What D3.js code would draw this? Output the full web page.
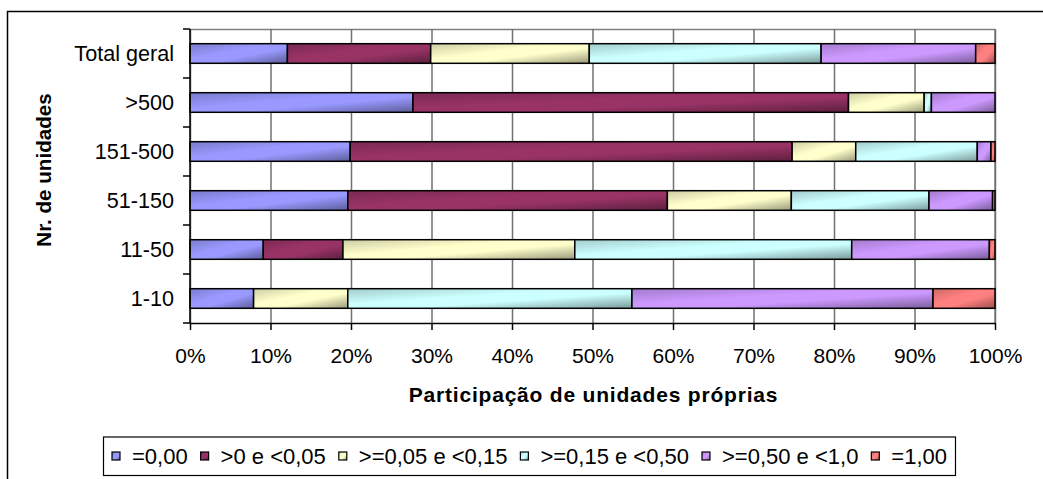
<!DOCTYPE html>
<html>
<head>
<meta charset="utf-8">
<script src="https://cdn.jsdelivr.net/npm/d3@7"></script>
<style>
  html, body { margin: 0; padding: 0; background: #fff; }
  svg { display: block; font-family: "Liberation Sans", Arial, sans-serif; }
</style>
</head>
<body>
<svg id="chart" width="1043" height="479"></svg>
<script>
// Categories, bottom to top
const categories = ["1-10", "11-50", "51-150", "151-500", ">500", "Total geral"];

// Share of units per class (%), one array per series, same order as categories
const seriesNames = ["=0,00", ">0 e <0,05", ">=0,05 e <0,15", ">=0,15 e <0,50", ">=0,50 e <1,0", "=1,00"];
const eq000   = [7.9,  9.1, 19.6, 19.9, 27.7, 12.1];
const gt0lt05 = [0.0,  9.9, 39.7, 54.9, 54.1, 17.8];
const ge05lt15 = [11.7, 28.8, 15.4, 7.9,  9.4, 19.7];
const ge15lt50 = [35.3, 34.4, 17.1, 15.1, 0.9, 28.8];
const ge50lt1  = [37.4, 17.1, 7.9,  1.7,  7.9, 19.2];
const eq100   = [7.7,  0.7,  0.3,  0.5,  0.0,  2.4];
const seriesValues = [eq000, gt0lt05, ge05lt15, ge15lt50, ge50lt1, eq100];
const seriesColors = ["#9999FF", "#993366", "#FFFFCC", "#CCFFFF", "#CC99FF", "#FF8080"];

const xTickValues = [0, 10, 20, 30, 40, 50, 60, 70, 80, 90, 100];
const xTitle = "Participação de unidades próprias";
const yTitle = "Nr. de unidades";

// Table for d3.stack
const rows = categories.map((c, i) => {
  const r = { cat: c };
  seriesNames.forEach((s, j) => { r[s] = seriesValues[j][i]; });
  return r;
});
const stacked = d3.stack().keys(seriesNames)(rows);

const svg = d3.select("#chart");
const plot = { left: 190, right: 995, top: 29, bottom: 323 };

const x = d3.scaleLinear().domain([0, 100]).range([plot.left, plot.right]);
const y = d3.scaleBand()
  .domain(categories.slice().reverse())
  .range([plot.top, plot.bottom])
  .paddingInner(0.6)
  .paddingOuter(0.3);

// Outer chart frame
svg.append("rect")
  .attr("x", 7.5).attr("y", 11.5)
  .attr("width", 1100).attr("height", 600)
  .attr("fill", "none").attr("stroke", "#000").attr("stroke-width", 1.5);

// Gradients: shaded diagonal fill per series
const defs = svg.append("defs");
seriesColors.forEach((c, i) => {
  const g = defs.append("linearGradient")
    .attr("id", "grad" + i)
    .attr("x1", 0).attr("y1", 0).attr("x2", 1).attr("y2", 1);
  const base = d3.color(c).formatHex();
  const dark = d3.interpolateRgb(c, "#000")(0.4);
  const mid = d3.interpolateRgb(c, "#000")(0.2);
  g.append("stop").attr("offset", "0%").attr("stop-color", mid);
  g.append("stop").attr("offset", "40%").attr("stop-color", base);
  g.append("stop").attr("offset", "60%").attr("stop-color", base);
  g.append("stop").attr("offset", "100%").attr("stop-color", dark);
});

// Plot frame (top and right edges) and vertical gridlines
svg.append("line")
  .attr("x1", plot.left).attr("x2", plot.right)
  .attr("y1", plot.top + 0.5).attr("y2", plot.top + 0.5)
  .attr("stroke", "#808080").attr("stroke-width", 1.5);
svg.append("line")
  .attr("x1", plot.right).attr("x2", plot.right)
  .attr("y1", plot.top).attr("y2", plot.bottom)
  .attr("stroke", "#808080").attr("stroke-width", 1.5);

const xAxis = d3.axisBottom(x)
  .tickValues(xTickValues)
  .tickSize(-(plot.bottom - plot.top))
  .tickFormat("");
svg.append("g")
  .attr("transform", `translate(0,${plot.bottom})`)
  .call(xAxis)
  .call(g => g.select(".domain").remove())
  .call(g => g.selectAll(".tick line").attr("stroke", "#707070").attr("stroke-width", 1.5));

// Bars
const layer = svg.append("g").selectAll("g")
  .data(stacked)
  .join("g")
  .attr("fill", (d, i) => `url(#grad${i})`);
layer.selectAll("rect")
  .data(d => d.filter(p => p[1] - p[0] > 0))
  .join("rect")
  .attr("x", p => x(p[0]))
  .attr("y", p => y(p.data.cat))
  .attr("width", p => x(p[1]) - x(p[0]))
  .attr("height", y.bandwidth())
  .attr("stroke", "#000")
  .attr("stroke-width", 1.5);

// X axis: line, outward ticks and percent labels
const xAxisLine = d3.axisBottom(x)
  .tickValues(xTickValues)
  .tickSize(7)
  .tickSizeOuter(0)
  .tickPadding(18)
  .tickFormat(d => d + "%");
svg.append("g")
  .attr("transform", `translate(0,${plot.bottom})`)
  .call(xAxisLine)
  .call(g => g.select(".domain").attr("stroke", "#000").attr("stroke-width", 1.5))
  .call(g => g.selectAll(".tick line").attr("stroke", "#000").attr("stroke-width", 1.5))
  .call(g => g.selectAll(".tick text")
    .attr("font-size", 21).attr("fill", "#000")
    .attr("font-family", "Liberation Sans, Arial, sans-serif"));

// Y axis: category labels, ticks between categories
const step = y.step();
const boundaries = d3.range(categories.length + 1).map(i => plot.top + i * step);
svg.append("line")
  .attr("x1", plot.left).attr("x2", plot.left)
  .attr("y1", plot.top).attr("y2", plot.bottom)
  .attr("stroke", "#000").attr("stroke-width", 1.5);
svg.append("g").selectAll("line")
  .data(boundaries)
  .join("line")
  .attr("x1", plot.left - 7).attr("x2", plot.left)
  .attr("y1", d => d).attr("y2", d => d)
  .attr("stroke", "#000").attr("stroke-width", 1.5);
svg.append("g").selectAll("text")
  .data(categories)
  .join("text")
  .attr("x", 174)
  .attr("y", d => y(d) + y.bandwidth() / 2 + 7.5)
  .attr("text-anchor", "end")
  .attr("font-size", 21.6)
  .attr("fill", "#000")
  .text(d => d);

// Axis titles
svg.append("text")
  .attr("x", (plot.left + plot.right) / 2 + 1)
  .attr("y", 402)
  .attr("text-anchor", "middle")
  .attr("font-size", 21)
  .attr("font-weight", "bold")
  .attr("letter-spacing", 0.8)
  .text(xTitle);
svg.append("text")
  .attr("transform", "translate(51,170) rotate(-90)")
  .attr("text-anchor", "middle")
  .attr("font-size", 20.6)
  .attr("font-weight", "bold")
  .text(yTitle);

// Legend
const legendBox = { x: 103.5, y: 437, w: 852, h: 38.5 };
svg.append("rect")
  .attr("x", legendBox.x).attr("y", legendBox.y)
  .attr("width", legendBox.w).attr("height", legendBox.h)
  .attr("fill", "#fff").attr("stroke", "#000").attr("stroke-width", 1.2);

const legend = svg.append("g");
const items = legend.selectAll("g")
  .data(seriesNames)
  .join("g");
items.append("rect")
  .attr("width", 8).attr("height", 8)
  .attr("y", 452)
  .attr("fill", (d, i) => `url(#grad${i})`)
  .attr("stroke", "#000").attr("stroke-width", 1.2);
items.append("text")
  .attr("y", 463.5)
  .attr("font-size", 22)
  .attr("fill", "#000")
  .text(d => d);

// Spread items evenly across the legend frame
const markerW = 8, markerGap = 12;
const widths = items.select("text").nodes().map(n => n.getComputedTextLength());
const innerL = 112, innerR = 947;
const used = widths.reduce((a, b) => a + b, 0) + seriesNames.length * (markerW + markerGap);
const gap = (innerR - innerL - used) / (seriesNames.length - 1);
let cx = innerL;
items.each(function (d, i) {
  const g = d3.select(this);
  g.select("rect").attr("x", cx);
  g.select("text").attr("x", cx + markerW + markerGap);
  cx += markerW + markerGap + widths[i] + gap;
});
</script>
</body>
</html>
